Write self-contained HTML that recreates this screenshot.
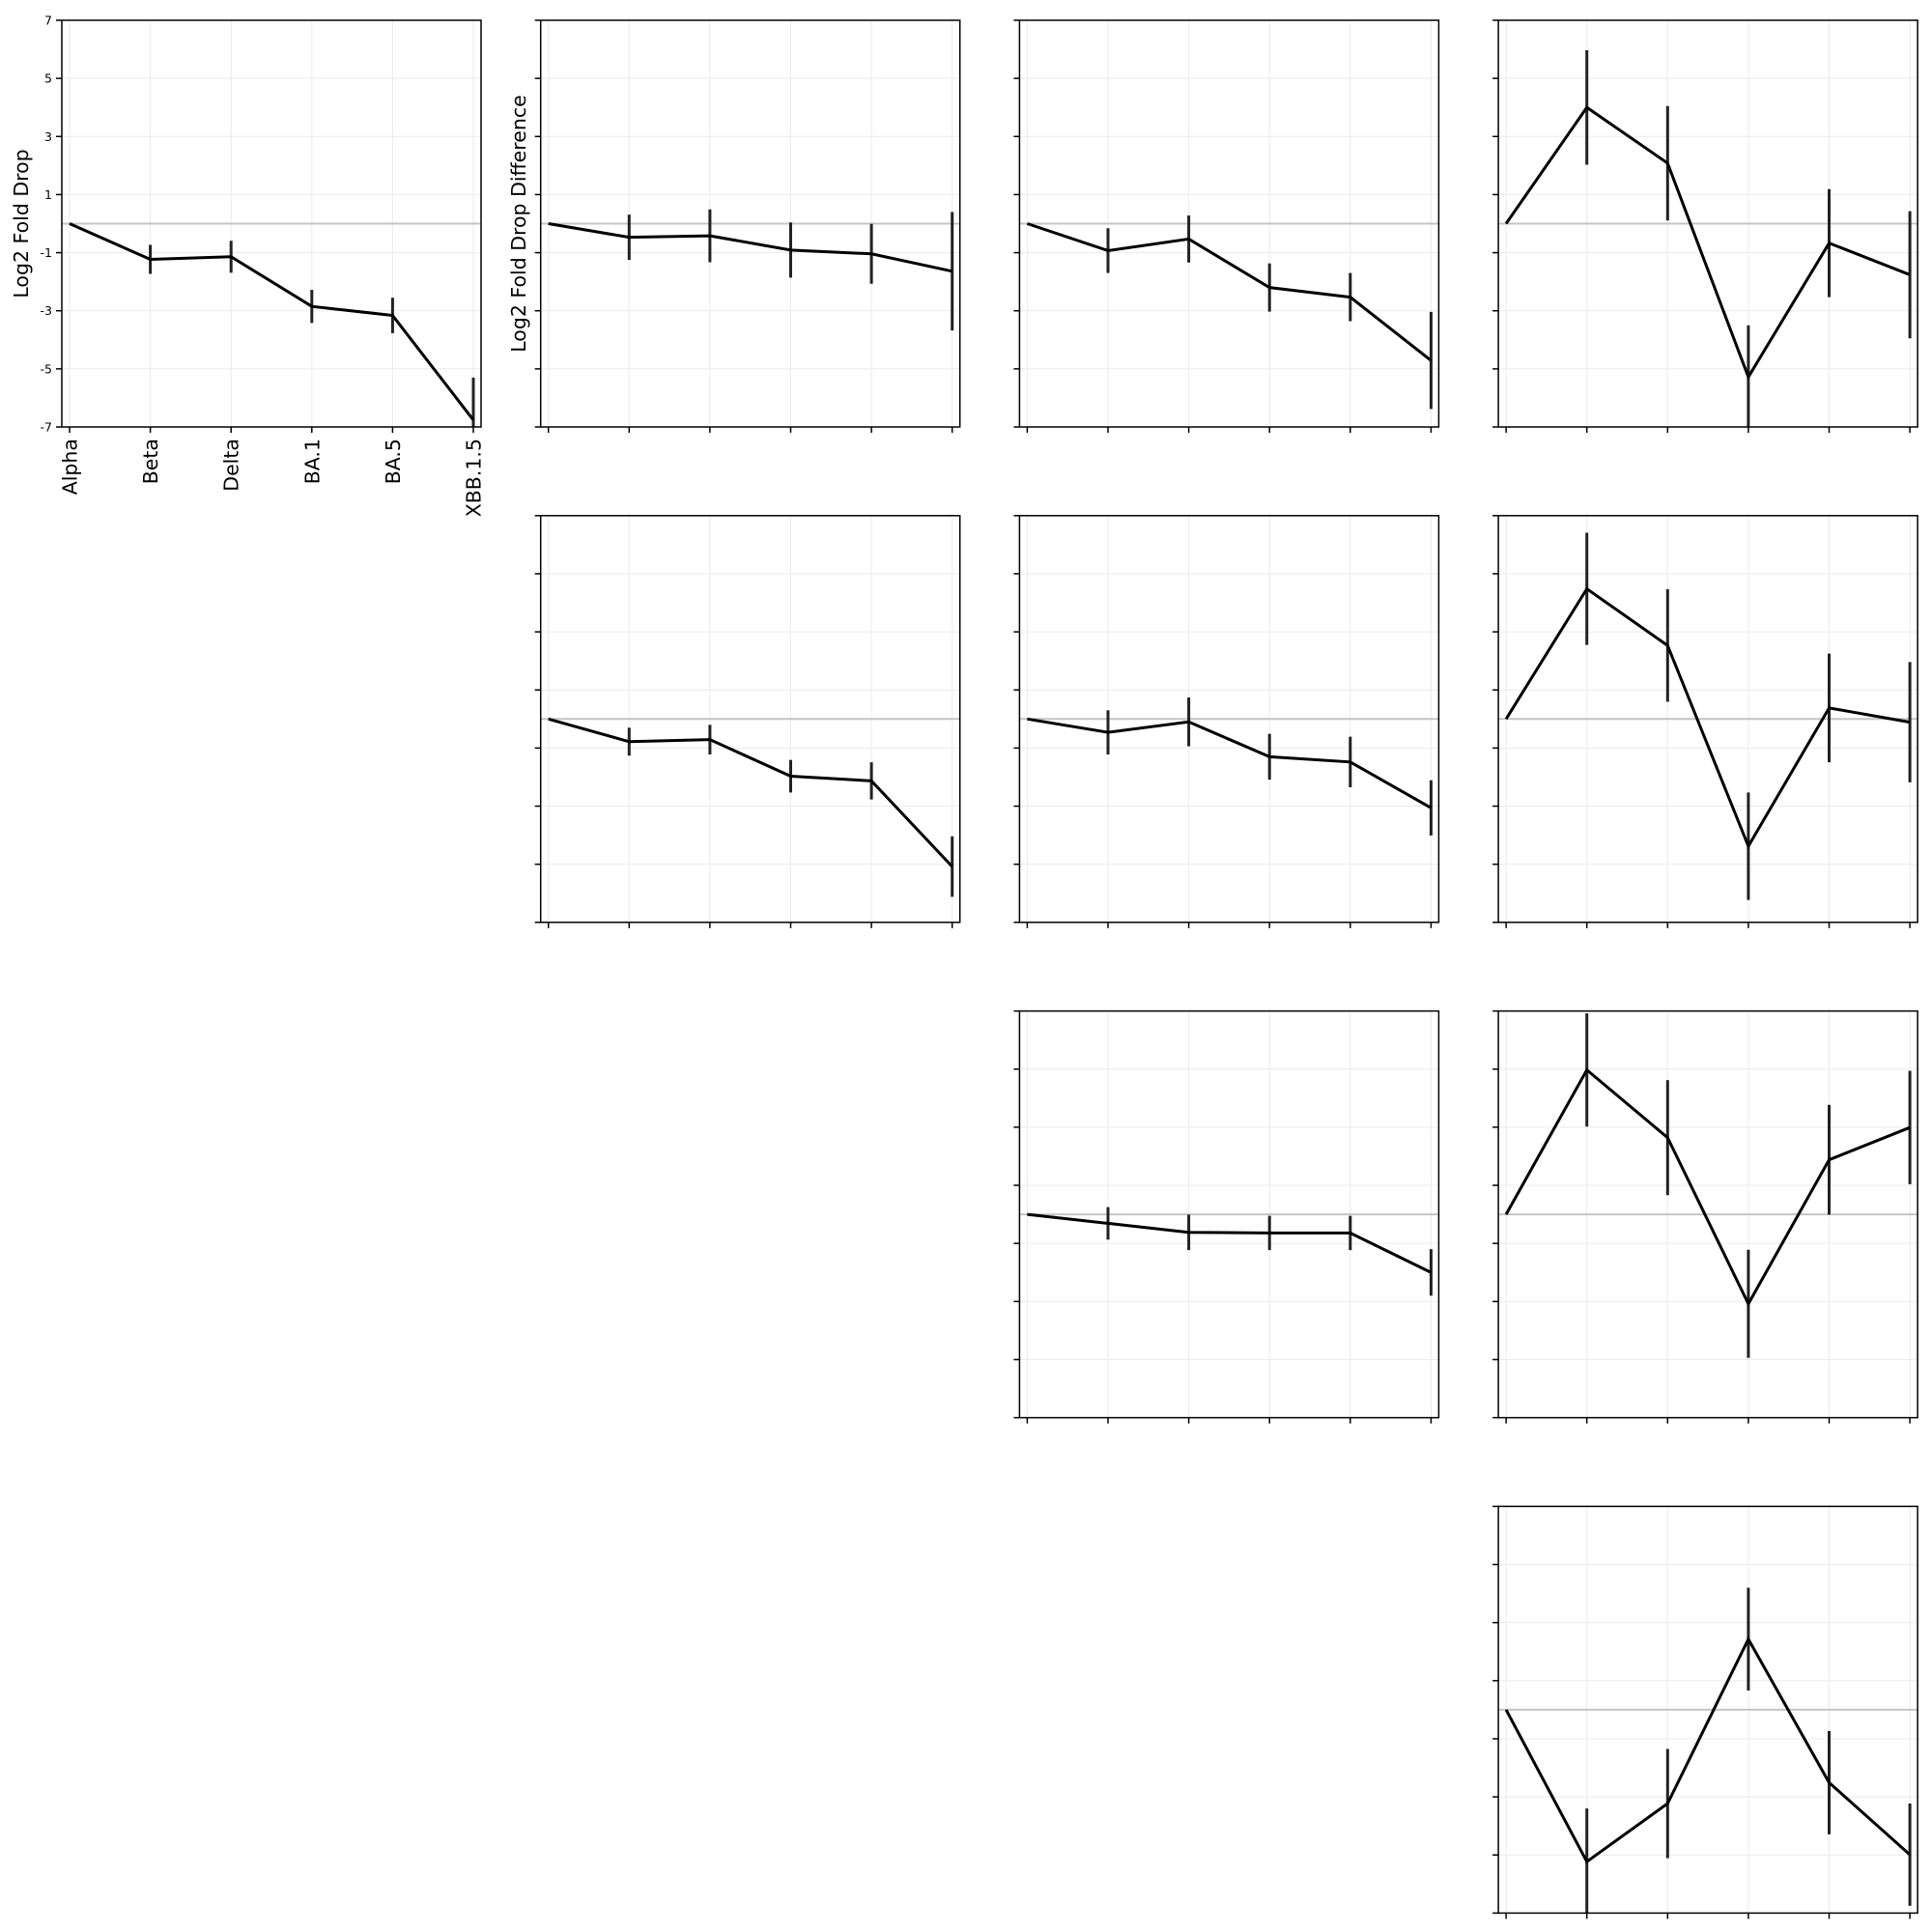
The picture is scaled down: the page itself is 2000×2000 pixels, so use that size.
<!DOCTYPE html>
<html><head><meta charset="utf-8"><style>
html,body{margin:0;padding:0;background:#fff;}
svg{display:block;font-family:"DejaVu Sans","Liberation Sans",sans-serif;}
</style></head><body>
<svg id="chart" width="2000" height="2000" viewBox="0 0 2000 2000" xmlns="http://www.w3.org/2000/svg"></svg>
<script>
const categories = ["Alpha","Beta","Delta","BA.1","BA.5","XBB.1.5"];
const yTicks = [7,5,3,1,-1,-3,-5,-7];
// panel grid positions (row, col)
const panelRows = [0,0,0,0,1,1,1,2,2,3];
const panelCols = [0,1,2,3,1,2,3,2,3,3];
// values per panel
const v0 = [0,-1.23,-1.14,-2.85,-3.16,-6.76];
const e0 = [0,0.5,0.55,0.57,0.61,1.46];
const v1 = [0,-0.47,-0.42,-0.91,-1.04,-1.64];
const e1 = [0,0.78,0.91,0.95,1.03,2.04];
const v2 = [0,-0.93,-0.53,-2.2,-2.53,-4.71];
const e2 = [0,0.77,0.81,0.83,0.83,1.67];
const v3 = [0,4.0,2.08,-5.28,-0.67,-1.76];
const e3 = [0,1.97,1.97,1.78,1.86,2.19];
const v4 = [0,-0.78,-0.71,-1.97,-2.13,-5.08];
const e4 = [0,0.48,0.51,0.56,0.64,1.04];
const v5 = [0,-0.46,-0.10,-1.30,-1.48,-3.06];
const e5 = [0,0.76,0.84,0.79,0.87,0.95];
const v6 = [0,4.48,2.53,-4.38,0.38,-0.11];
const e6 = [0,1.93,1.94,1.85,1.87,2.07];
const v7 = [0,-0.31,-0.62,-0.64,-0.64,-2.0];
const e7 = [0,0.56,0.61,0.59,0.59,0.8];
const v8 = [0,4.97,2.64,-3.08,1.88,2.99];
const e8 = [0,1.95,1.98,1.86,1.89,1.95];
const v9 = [0,-5.23,-3.23,2.43,-2.51,-4.99];
const e9 = [0,1.83,1.88,1.77,1.78,1.76];
const values = [v0,v1,v2,v3,v4,v5,v6,v7,v8,v9];
const errors = [e0,e1,e2,e3,e4,e5,e6,e7,e8,e9];

const NS = "http://www.w3.org/2000/svg";
const svg = document.getElementById("chart");
const PW = 434, PH = 421, PAD = 8;
const YMIN = -7, YMAX = 7;
function mk(tag, attrs, parent){
  const el = document.createElementNS(NS, tag);
  for (const k in attrs) el.setAttribute(k, attrs[k]);
  (parent||svg).appendChild(el);
  return el;
}
function panelLeft(c){ return 64 + c*495.7; }
function panelTop(r){ return 21 + r*512.8; }

for (let p = 0; p < values.length; p++) {
  const L = panelLeft(panelCols[p]), T = panelTop(panelRows[p]);
  const xS = i => L + PAD + i*(PW - 2*PAD)/(categories.length-1);
  const yS = v => T + (YMAX - v)/(YMAX - YMIN)*PH;
  const g = mk("g", {});
  
  
  const clipId = "clip" + p;
  const cp = mk("clipPath", {id: clipId}, g);
  mk("rect", {x: L, y: T, width: PW, height: PH}, cp);
  for (let i = 0; i < categories.length; i++) {
    const gl = mk("line", {x1: xS(i), x2: xS(i), y1: T, y2: T+PH, stroke: "#ebebeb", "stroke-width": 1}, g);
    
    
  }
  for (const t of yTicks) {
    const gl = mk("line", {x1: L, x2: L+PW, y1: yS(t), y2: yS(t), stroke: "#ebebeb", "stroke-width": 1}, g);
    
    
  }
  const zl = mk("line", {x1: L, x2: L+PW, y1: yS(0), y2: yS(0), stroke: "#c4c4c4", "stroke-width": 2}, g);
  
  
  const inner = mk("g", {"clip-path": "url(#" + clipId + ")"}, g);
  const vals = values[p], errs = errors[p];
  for (let i = 0; i < vals.length; i++) {
    if (errs[i] <= 0) continue;
    const eb = mk("line", {x1: xS(i), x2: xS(i), y1: yS(vals[i]+errs[i]), y2: yS(vals[i]-errs[i]), stroke: "#222", "stroke-width": 3}, inner);
    
    
  }
  const pts = vals.map((v,i) => xS(i).toFixed(2) + "," + yS(v).toFixed(2)).join(" ");
  const ln = mk("polyline", {points: pts, fill: "none", stroke: "#000", "stroke-width": 3, "stroke-linejoin": "miter"}, inner);
  
  
  const fr = mk("rect", {x: L, y: T, width: PW, height: PH, fill: "none", stroke: "#000", "stroke-width": 1.5}, g);
  
  
  for (let i = 0; i < categories.length; i++) {
    const tk = mk("line", {x1: xS(i), x2: xS(i), y1: T+PH, y2: T+PH+6, stroke: "#000", "stroke-width": 1.5}, g);
    
    
  }
  for (const t of yTicks) {
    const tk = mk("line", {x1: L-6, x2: L, y1: yS(t), y2: yS(t), stroke: "#000", "stroke-width": 1.5}, g);
    
    
  }
  if (p === 0) {
    for (const t of yTicks) {
      const tl = mk("text", {x: L-10, y: yS(t)+4.5, "text-anchor": "end", "font-size": 12.5, fill: "#000"}, g);
      tl.textContent = String(t);
      
      
    }
    for (let i = 0; i < categories.length; i++) {
      const x = xS(i) + 7.5, y = T + PH + 12;
      const tl = mk("text", {x: x, y: y, "text-anchor": "end", "font-size": 20.5, fill: "#000", transform: "rotate(-90 " + x + " " + y + ")"}, g);
      tl.textContent = categories[i];
      
      
    }
    const yl = mk("text", {x: 0, y: 0, "text-anchor": "middle", "font-size": 20.5, fill: "#000", transform: "translate(29 " + (T+PH/2) + ") rotate(-90)"}, g);
    yl.textContent = "Log2 Fold Drop";
    
    
  }
  if (p === 1) {
    const yl = mk("text", {x: 0, y: 0, "text-anchor": "middle", "font-size": 20.5, fill: "#000", transform: "translate(544 " + (T+PH/2) + ") rotate(-90)"}, g);
    yl.textContent = "Log2 Fold Drop Difference";
    
    
  }
}
</script>
</body></html>
